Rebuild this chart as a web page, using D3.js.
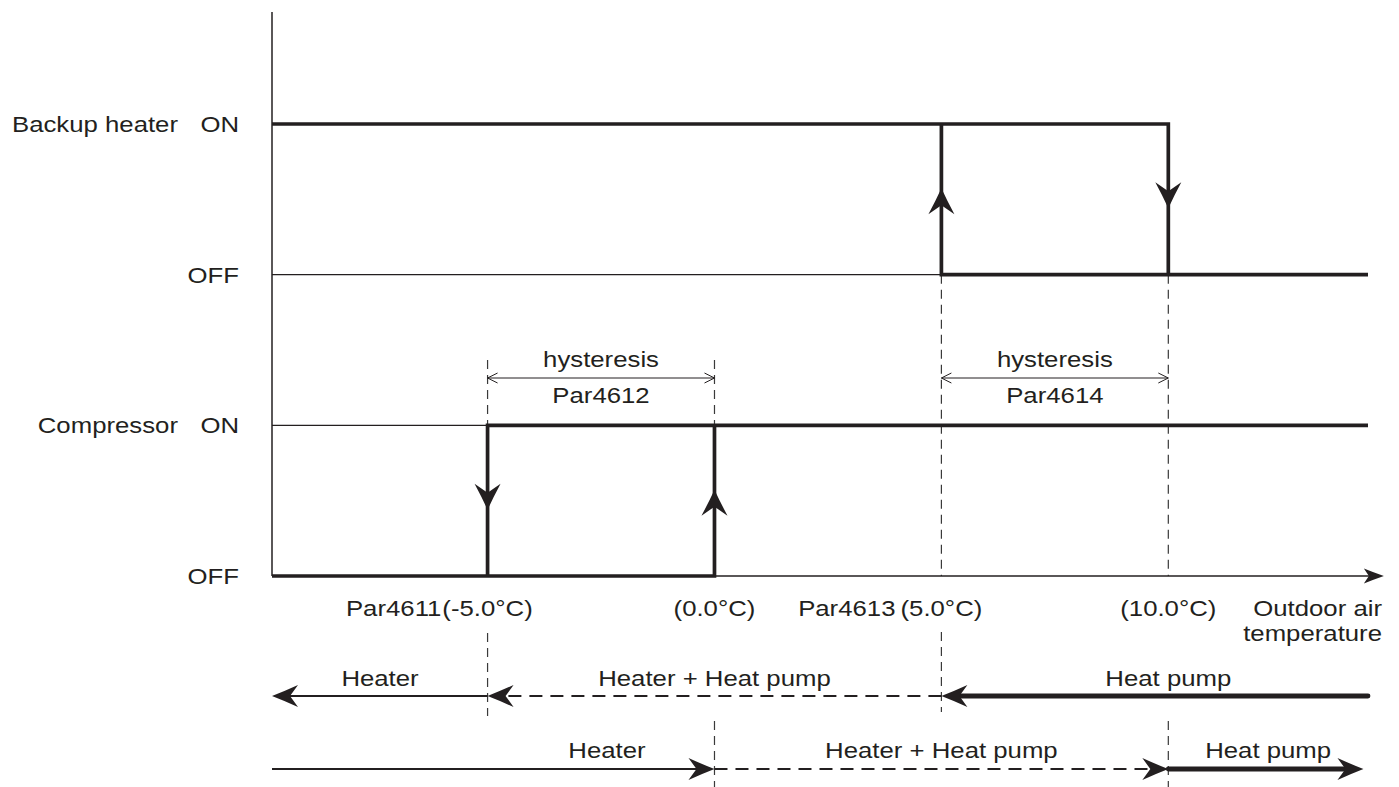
<!DOCTYPE html>
<html>
<head>
<meta charset="utf-8">
<script src="https://cdn.jsdelivr.net/npm/d3@7"></script>
<style>
  html, body { margin: 0; padding: 0; background: #fff; }
  svg { display: block; }
  text { font-family: "Liberation Sans", Arial, Helvetica, sans-serif; fill: #231f20; }
</style>
</head>
<body>
<svg id="chart" width="1399" height="787"></svg>
<script>
// ---------------- data ----------------
const devices = ["Backup heater", "Compressor"];
const states = ["ON", "OFF"];
const thresholds = [-5, 0, 5, 10];
const thresholdLabels = ["(-5.0°C)", "(0.0°C)", "(5.0°C)", "(10.0°C)"];
const thresholdParams = ["Par4611", "", "Par4613", ""];
const xAxisTitle = ["Outdoor air", "temperature"];
const tempDomain = [-9.75, 14.4];
const axisEnd = 14.75;

// switching loops: [temperature, state]
const backupThick = [[[-9.75, "ON"], [10, "ON"], [10, "OFF"]], [[5, "ON"], [5, "OFF"], [14.4, "OFF"]]];
const backupThin = [[[-9.75, "OFF"], [5, "OFF"]]];
const compThick = [[[-9.75, "OFF"], [0, "OFF"], [0, "ON"]], [[-5, "OFF"], [-5, "ON"], [14.4, "ON"]]];
const compThin = [[[-9.75, "ON"], [-5, "ON"]]];
// direction arrows on switching edges
const backupSwitch = [{t: 5, dir: "up"}, {t: 10, dir: "down"}];
const compSwitch = [{t: -5, dir: "down"}, {t: 0, dir: "up"}];

const hysteresis = [
  {from: -5, to: 0, label: "hysteresis", param: "Par4612"},
  {from: 5, to: 10, label: "hysteresis", param: "Par4614"}
];

const fallingModes = [
  {label: "Heater", from: -5, to: -9.75, style: "solid", labelAt: -7.37},
  {label: "Heater + Heat pump", from: 5, to: -5, style: "dashed", labelAt: 0},
  {label: "Heat pump", from: 14.4, to: 5, style: "thick", labelAt: 10}
];
const risingModes = [
  {label: "Heater", from: -9.75, to: 0, style: "solid", labelAt: -2.37},
  {label: "Heater + Heat pump", from: 0, to: 10, style: "dashed", labelAt: 5},
  {label: "Heat pump", from: 10, to: 14.3, style: "thick", labelAt: 12.2}
];

// ---------------- drawing ----------------
const ink = "#231f20";
const SX = 1.12; // horizontal text stretch
const FS = 23;

const svg = d3.select("#chart");
const x = d3.scaleLinear().domain(tempDomain).range([272, 1368]);
const levelKeys = [];
devices.forEach(d => states.forEach(s => levelKeys.push(d + "|" + s)));
const y = d3.scalePoint().domain(levelKeys).range([124, 576]);
const yOf = (dev, st) => y(dev + "|" + st);

function addText(g, str, tx, ty, anchor, size) {
  return g.append("text")
    .attr("transform", `translate(${tx},${ty}) scale(${SX},1)`)
    .attr("text-anchor", anchor || "middle")
    .attr("font-size", size || FS)
    .text(str);
}

function arrowHead(g, tipX, tipY, angleDeg, len, half, notch) {
  const p = `M0,0 Q${-len*0.5},${half*0.46} ${-len},${half} L${-len+notch},0 L${-len},${-half} Q${-len*0.5},${-half*0.46} 0,0 Z`;
  g.append("path").attr("d", p)
    .attr("transform", `translate(${tipX},${tipY}) rotate(${angleDeg})`)
    .attr("fill", ink);
}

// guides (dashed verticals)
const gGuides = svg.append("g").attr("stroke", "#3a3a3a").attr("stroke-width", 1.2).attr("stroke-dasharray", "9,6").attr("fill", "none");
const guideSpans = [
  {t: -5, spans: [[360, yOf("Compressor", "ON")], [633, 716]]},
  {t: 0, spans: [[360, yOf("Compressor", "ON")], [721, 787]]},
  {t: 5, spans: [[yOf("Backup heater", "OFF"), yOf("Compressor", "OFF")], [632, 712]]},
  {t: 10, spans: [[yOf("Backup heater", "OFF"), yOf("Compressor", "OFF")], [721, 787]]}
];
guideSpans.forEach(g => g.spans.forEach(s => {
  gGuides.append("line").attr("x1", x(g.t)).attr("x2", x(g.t)).attr("y1", s[0]).attr("y2", s[1]);
}));

// axes
const gAxis = svg.append("g");
gAxis.append("line").attr("x1", x(tempDomain[0])).attr("x2", x(tempDomain[0]))
  .attr("y1", 12).attr("y2", yOf("Compressor", "OFF")).attr("stroke", ink).attr("stroke-width", 1.5);
gAxis.append("line").attr("x1", x(tempDomain[0])).attr("x2", x(axisEnd) - 10)
  .attr("y1", yOf("Compressor", "OFF")).attr("y2", yOf("Compressor", "OFF")).attr("stroke", ink).attr("stroke-width", 1.3);
arrowHead(gAxis, x(axisEnd), yOf("Compressor", "OFF"), 0, 20, 7.5, 5);

function drawSeries(dev, thick, thin, sw) {
  const l = d3.line().x(d => x(d[0])).y(d => yOf(dev, d[1]));
  thin.forEach(seg => svg.append("path").attr("d", l(seg)).attr("fill", "none").attr("stroke", ink).attr("stroke-width", 1.2));
  thick.forEach(seg => svg.append("path").attr("d", l(seg)).attr("fill", "none").attr("stroke", ink).attr("stroke-width", 3.7).attr("stroke-linejoin", "miter"));
  sw.forEach(s => {
    const mid = (yOf(dev, "ON") + yOf(dev, "OFF")) / 2;
    if (s.dir === "down") arrowHead(svg, x(s.t), mid + 9, 90, 26, 13, 9);
    else arrowHead(svg, x(s.t), mid - 11, -90, 26, 13, 9);
  });
}
drawSeries("Backup heater", backupThick, backupThin, backupSwitch);
drawSeries("Compressor", compThick, compThin, compSwitch);

// y labels
const gY = svg.append("g");
devices.forEach(dev => {
  addText(gY, dev, 178, yOf(dev, "ON") + 8, "end");
  states.forEach(st => addText(gY, st, 239, yOf(dev, st) + 8, "end"));
});

// threshold labels
const gX = svg.append("g");
thresholds.forEach((t, i) => {
  const tv = addText(gX, thresholdLabels[i], x(t), 616, "middle");
  const w = tv.node().getComputedTextLength() * SX;
  if (thresholdParams[i]) {
    addText(gX, thresholdParams[i], x(t) - w / 2 - (i === 0 ? 1 : 5), 616, "end");
  }
});
addText(gX, xAxisTitle[0], 1382, 616, "end");
addText(gX, xAxisTitle[1], 1382, 641, "end");

// hysteresis
const gH = svg.append("g");
hysteresis.forEach(h => {
  const x1 = x(h.from), x2 = x(h.to), yy = 378;
  gH.append("line").attr("x1", x1).attr("x2", x2).attr("y1", yy).attr("y2", yy).attr("stroke", ink).attr("stroke-width", 1);
  gH.append("path").attr("d", `M${x1 + 10},${yy - 5} L${x1},${yy} L${x1 + 10},${yy + 5}`).attr("fill", "none").attr("stroke", ink).attr("stroke-width", 1);
  gH.append("path").attr("d", `M${x2 - 10},${yy - 5} L${x2},${yy} L${x2 - 10},${yy + 5}`).attr("fill", "none").attr("stroke", ink).attr("stroke-width", 1);
  addText(gH, h.label, (x1 + x2) / 2, 367, "middle");
  addText(gH, h.param, (x1 + x2) / 2, 403, "middle");
});

// mode rows
function drawModes(modes, rowY, labelY) {
  const g = svg.append("g");
  modes.forEach(m => {
    const dir = m.to > m.from ? 1 : -1;
    const sw = m.style === "thick" ? 4.8 : 2;
    const tip = x(m.to);
    g.append("line").attr("x1", x(m.from)).attr("x2", tip - dir * 12)
      .attr("y1", rowY).attr("y2", rowY)
      .attr("stroke", ink).attr("stroke-width", sw)
      .attr("stroke-linecap", m.style === "thick" ? "round" : "butt")
      .attr("stroke-dasharray", m.style === "dashed" ? "13,8" : null);
    arrowHead(g, tip, rowY, dir > 0 ? 0 : 180, 26, 11, 8);
    addText(g, m.label, x(m.labelAt), labelY, "middle");
  });
}
drawModes(fallingModes, 696, 686);
drawModes(risingModes, 769, 758);
</script>
</body>
</html>
